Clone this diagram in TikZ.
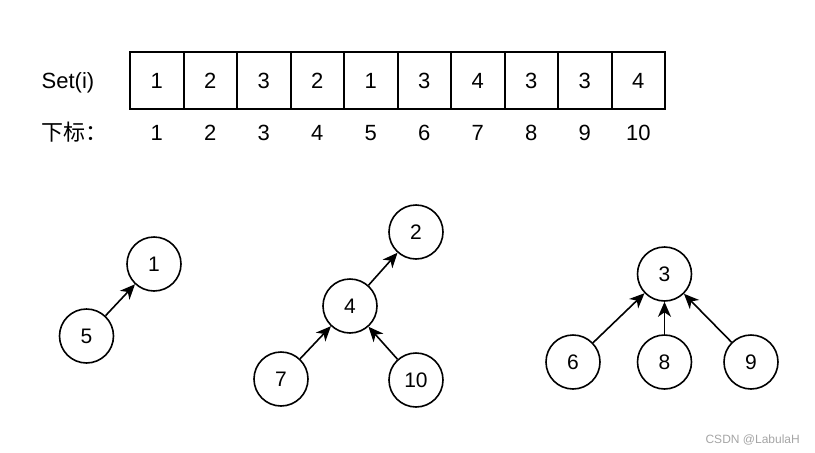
\documentclass[tikz,border=0pt]{standalone}
\usepackage{fontspec}
\setmainfont{Liberation Sans}
\newfontfamily\cjk{Noto Sans CJK SC}
\usetikzlibrary{arrows.meta}
\definecolor{wm}{RGB}{165,165,165}
\begin{document}
\begin{tikzpicture}[x=1pt,y=-1pt,
  cell/.style={minimum width=53.5pt,minimum height=57pt,inner sep=0pt,font=\fontsize{22}{26}\selectfont},
  border/.style={line width=1.6pt},
  lab/.style={inner sep=0pt,anchor=base,font=\fontsize{22}{26}\selectfont},
  vert/.style={draw,circle,line width=1.6pt,minimum size=54pt,inner sep=0pt,font=\fontsize{21}{25}\selectfont},
  link/.style={line width=1.6pt,-{Stealth[length=15pt,width=13pt,inset=4.5pt]}}]
\path[use as bounding box] (0,0) rectangle (815,453);
% labels
\node[lab,anchor=base west] (setl) at (41.5,88) {Set(i)};
\node[lab,anchor=base west] (idxl) at (41.5,140) {\cjk 下标：};
% array cells
\foreach \v [count=\i] in {1,2,3,2,1,3,4,3,3,4} {
  \node[cell] (c\i) at ({130+53.5*(\i-0.5)},80.5) {\v};
  \node[lab] (n\i) at ({130+53.5*(\i-0.5)},140) {\i};
}
\draw[border] (c1.north west) rectangle (c10.south east);
\foreach \i in {1,...,9} {
  \draw[border] (c\i.north east) -- (c\i.south east);
}
% trees
\node[vert] (t1) at (154,264) {1};
\node[vert] (t5) at (86.5,336) {5};
\node[vert] (t2) at (416,232) {2};
\node[vert] (t4) at (350,306) {4};
\node[vert] (t7) at (281,379) {7};
\node[vert] (t10) at (416,380) {10};
\node[vert] (t3) at (664.5,274) {3};
\node[vert] (t6) at (573,362) {6};
\node[vert] (t8) at (664.5,362) {8};
\node[vert] (t9) at (751,362) {9};
\draw[link] (t5) -- (t1);
\draw[link] (t4) -- (t2);
\draw[link] (t7) -- (t4);
\draw[link] (t10) -- (t4);
\draw[link] (t6) -- (t3);
\draw[link] (t8) -- (t3);
\draw[link] (t9) -- (t3);
\node[inner sep=0pt,anchor=base east,text=wm,font=\fontsize{12}{14}\selectfont] (wmk) at (800,443) {CSDN @LabulaH};
\end{tikzpicture}
\end{document}
